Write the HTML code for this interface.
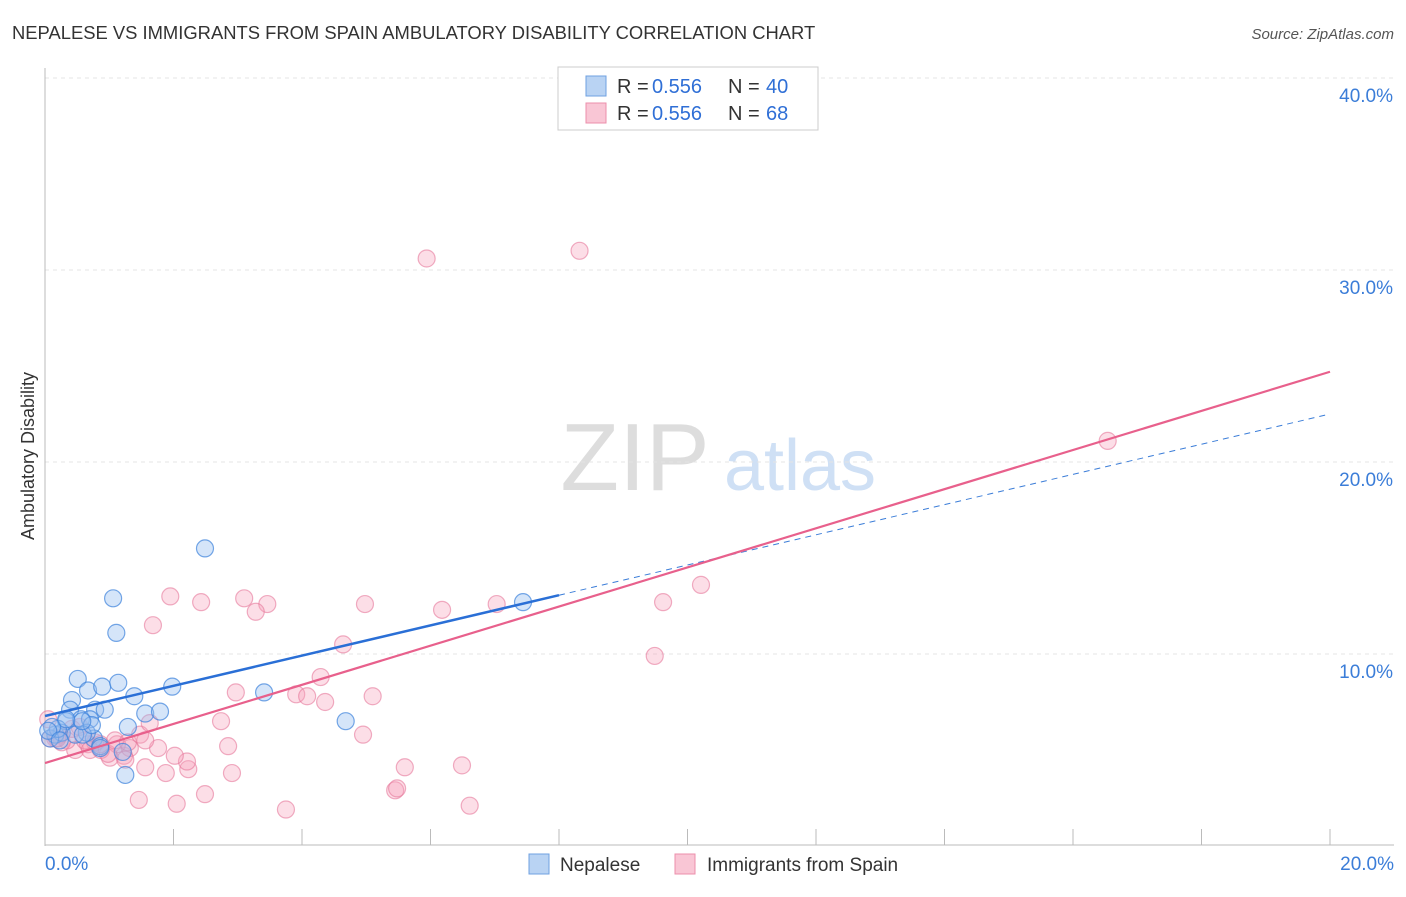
<!DOCTYPE html>
<html><head><meta charset="utf-8"><style>
body{margin:0;background:#fff;font-family:"Liberation Sans",sans-serif}
svg text{font-family:"Liberation Sans",sans-serif}
</style></head><body>
<svg id="chart" width="1406" height="892">
<text x="12" y="39" font-size="18.4" fill="#333">NEPALESE VS IMMIGRANTS FROM SPAIN AMBULATORY DISABILITY CORRELATION CHART</text>
<text x="1394" y="39" font-size="15" fill="#555" font-style="italic" text-anchor="end">Source: ZipAtlas.com</text>
<text x="0" y="0" transform="translate(34,456) rotate(-90)" font-size="18" fill="#333" text-anchor="middle">Ambulatory Disability</text>
<g><text x="635" y="490" font-size="96" font-family="Liberation Serif" fill="#ddd" text-anchor="middle">ZIP</text><text x="800" y="490" font-size="72" fill="#cfe0f5" text-anchor="middle">atlas</text></g>
<g id="grid"></g><g id="axes"></g><g id="marks"></g>
<g>
<rect x="558" y="67" width="260" height="63" fill="#fff" stroke="#ccc"/>
<rect x="586" y="76" width="20" height="20" fill="#b9d3f3" stroke="#6fa0e0"/>
<rect x="586" y="103" width="20" height="20" fill="#f9c6d5" stroke="#ec8fab"/>
<text x="617" y="93" font-size="20" fill="#333">R =</text><text x="652" y="93" font-size="20" fill="#2f6fd6">0.556</text>
<text x="728" y="93" font-size="20" fill="#333">N =</text><text x="766" y="93" font-size="20" fill="#2f6fd6">40</text>
<text x="617" y="120" font-size="20" fill="#333">R =</text><text x="652" y="120" font-size="20" fill="#2f6fd6">0.556</text>
<text x="728" y="120" font-size="20" fill="#333">N =</text><text x="766" y="120" font-size="20" fill="#2f6fd6">68</text>
</g>
<g>
<rect x="529" y="854" width="20" height="20" fill="#b9d3f3" stroke="#6fa0e0"/>
<text x="560" y="871" font-size="19" fill="#333">Nepalese</text>
<rect x="675" y="854" width="20" height="20" fill="#f9c6d5" stroke="#ec8fab"/>
<text x="707" y="871" font-size="19" fill="#333">Immigrants from Spain</text>
</g>
</svg>
<script>
const yTicks=[10,20,30,40];
const yTickLabels=["10.0%","20.0%","30.0%","40.0%"];
const xTicks=[0,2,4,6,8,10,12,14,16,18,20];
const nepaleseX=[2.49,1.06,1.11,0.51,0.67,0.89,1.14,1.39,1.98,3.41,0.42,0.78,0.39,0.93,0.56,0.7,0.33,1.56,1.79,1.29,0.16,0.26,0.08,4.68,7.44,1.25,0.76,0.86,0.65,0.47,0.59,0.2,0.11,0.05,1.21,0.73,0.33,0.58,0.23,0.86];
const nepaleseY=[15.5,12.9,11.1,8.7,8.1,8.3,8.5,7.8,8.3,8.0,7.6,7.1,7.1,7.1,6.6,6.6,6.5,6.9,7.0,6.2,5.8,5.9,5.6,6.5,12.7,3.7,5.6,5.2,5.9,5.8,5.8,6.1,6.2,6.0,4.9,6.3,6.6,6.5,5.5,5.1];
const spainX=[5.94,8.32,16.54,10.21,9.62,9.49,7.03,6.18,4.98,3.46,3.1,3.28,1.95,2.43,1.68,4.64,4.29,5.1,3.91,4.08,4.36,2.97,2.74,4.95,2.85,5.6,6.49,5.45,5.48,6.61,3.75,2.49,2.05,1.46,2.91,2.23,1.88,1.56,2.21,2.02,1.76,1.23,1.01,1.32,1.12,0.87,0.47,0.67,0.34,0.16,0.23,0.05,0.08,0.42,0.54,0.78,0.98,1.09,1.29,1.48,1.63,0.62,0.26,0.19,1.56,1.25,0.86,0.7];
const spainY=[30.6,31.0,21.1,13.6,12.7,9.9,12.6,12.3,12.6,12.6,12.9,12.2,13.0,12.7,11.5,10.5,8.8,7.8,7.9,7.8,7.5,8.0,6.5,5.8,5.2,4.1,4.2,2.9,3.0,2.1,1.9,2.7,2.2,2.4,3.8,4.0,3.8,4.1,4.4,4.7,5.1,4.7,4.6,5.1,5.3,5.0,5.0,5.3,5.5,5.6,5.8,6.6,5.6,6.1,6.2,5.4,4.8,5.5,5.4,5.8,6.4,5.5,5.4,5.6,5.5,4.5,5.3,5.0];
const blueLine=[6.77,22.5]; const blueSolidEnd=8.0;
const pinkLine=[4.32,24.7];
const NS="http://www.w3.org/2000/svg";
const sx=v=>45+v/20*1285, sy=v=>846-v*19.2;
function mk(t,a,p){const e=document.createElementNS(NS,t);for(const k in a)e.setAttribute(k,a[k]);p.appendChild(e);return e;}
const grid=document.getElementById('grid'),axes=document.getElementById('axes'),marks=document.getElementById('marks');
yTicks.forEach((t,i)=>{
 const l=mk('line',{x1:45,x2:1394,y1:sy(t),y2:sy(t),stroke:'#e4e4e4','stroke-dasharray':'4,4'},grid);
 
 
 const tx=mk('text',{x:1393,y:sy(t)+24,'font-size':19,fill:'#3b7dd8','text-anchor':'end'},axes);
 tx.textContent=yTickLabels[i];
 
 
});
const la=mk('line',{x1:45,x2:45,y1:68,y2:846,stroke:'#bbb'},axes);


const lb=mk('line',{x1:45,x2:1394,y1:845,y2:845,stroke:'#bbb'},axes);


xTicks.forEach(t=>{const l=mk('line',{x1:sx(t),x2:sx(t),y1:829,y2:845,stroke:'#bbb'},axes);
 
 });
const x0=mk('text',{x:45,y:870,'font-size':19,fill:'#3b7dd8'},axes);x0.textContent='0.0%';


const x1=mk('text',{x:1394,y:870,'font-size':19,fill:'#3b7dd8','text-anchor':'end'},axes);x1.textContent='20.0%';


spainX.forEach((x,i)=>{const c=mk('circle',{cx:sx(x),cy:sy(spainY[i]),r:8.5,fill:'rgba(245,160,185,0.35)',stroke:'rgba(230,120,155,0.6)','stroke-width':1.2},marks);
 
 });
nepaleseX.forEach((x,i)=>{const c=mk('circle',{cx:sx(x),cy:sy(nepaleseY[i]),r:8.5,fill:'rgba(150,190,240,0.4)',stroke:'rgba(60,130,220,0.7)','stroke-width':1.2},marks);
 
 });
const by=x=>blueLine[0]+(blueLine[1]-blueLine[0])*x/20;
const bd=mk('line',{x1:sx(blueSolidEnd),y1:sy(by(blueSolidEnd)),x2:sx(20),y2:sy(blueLine[1]),stroke:'#3b7dd8','stroke-width':1,'stroke-dasharray':'6,5'},marks);


const pl=mk('line',{x1:sx(0),y1:sy(pinkLine[0]),x2:sx(20),y2:sy(pinkLine[1]),stroke:'#e8608c','stroke-width':2.2},marks);


const bl=mk('line',{x1:sx(0),y1:sy(blueLine[0]),x2:sx(blueSolidEnd),y2:sy(by(blueSolidEnd)),stroke:'#2a6fd6','stroke-width':2.5},marks);


</script>
</body></html>
